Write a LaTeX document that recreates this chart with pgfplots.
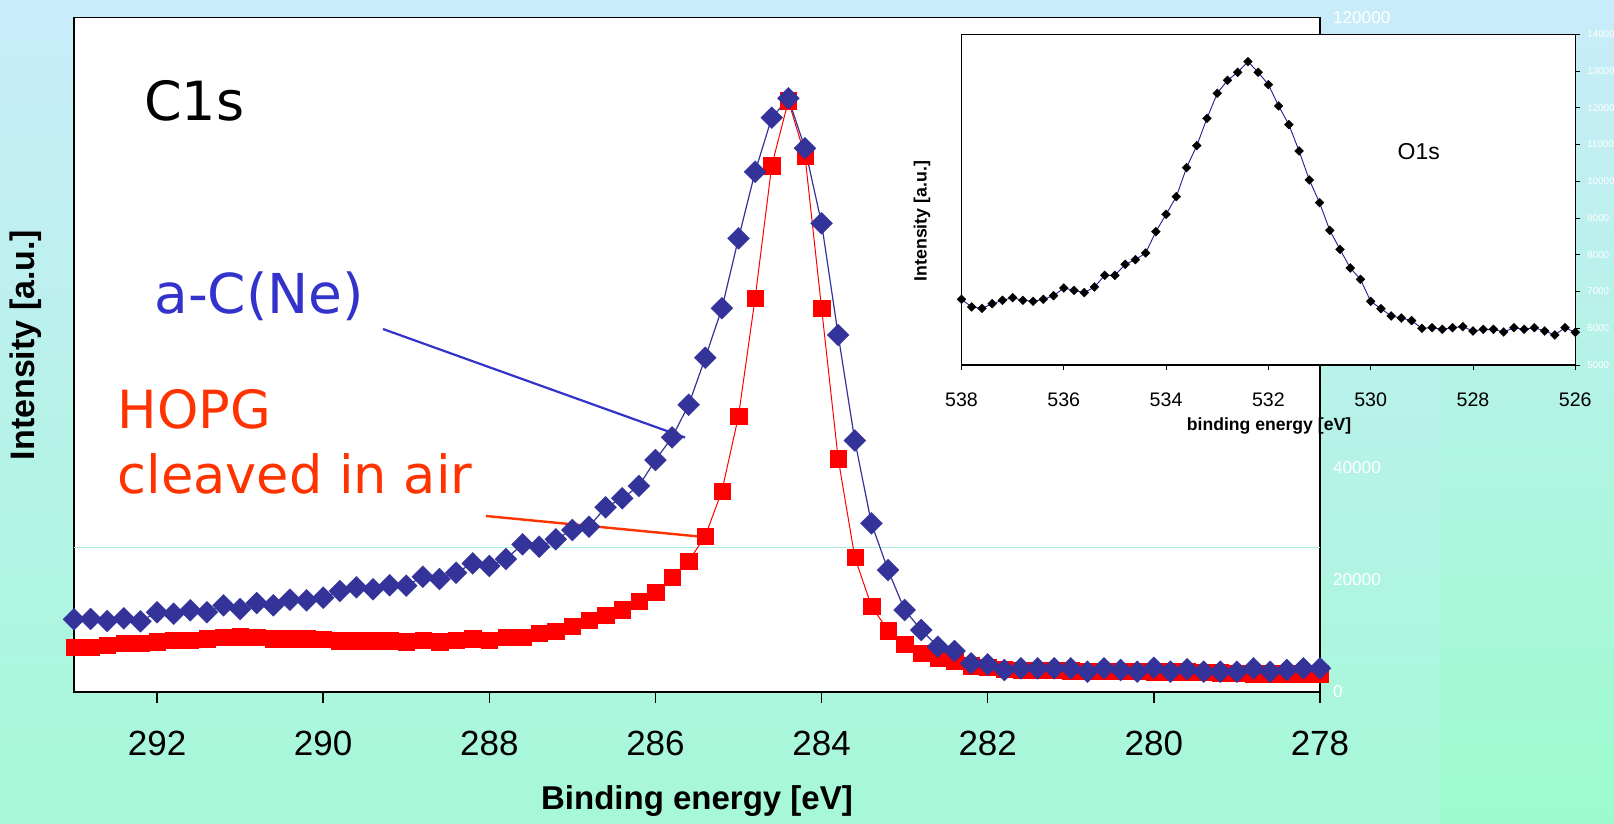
\documentclass[border=0pt]{standalone}
\usepackage{pgfplots}
\pgfplotsset{compat=1.18}
\usepackage{pgfplotstable}
\usepackage{fontspec}
\setmainfont{Liberation Sans}
\newfontfamily\verdana{DejaVu Sans}
\definecolor{bgtop}{RGB}{201,236,250}
\definecolor{bgbot}{RGB}{166,248,216}
\definecolor{bgbotr}{RGB}{156,251,206}
\definecolor{dblue}{RGB}{51,51,153}
\definecolor{ablue}{RGB}{51,51,204}
\definecolor{ared}{RGB}{255,51,0}
\definecolor{cyanl}{RGB}{170,236,222}
\definecolor{inblue}{RGB}{30,30,150}

\pgfplotstableread{
x blue red
293.0 12930 7950
292.8 12990 7950
292.6 12630 8300
292.4 13110 8650
292.2 12580 8650
292.0 14180 8950
291.8 13930 9250
291.6 14540 9250
291.4 14180 9500
291.2 15420 9750
291.0 14770 9840
290.8 15830 9750
290.6 15420 9500
290.4 16420 9500
290.2 16310 9500
290.0 16780 9450
289.8 17970 9150
289.6 18630 9150
289.4 18270 9150
289.2 18980 9150
289.0 18910 8950
288.8 20510 9250
288.6 20100 8950
288.4 21220 9200
288.2 22890 9500
288.0 22420 9250
287.8 23660 9800
287.6 26280 9800
287.4 25850 10500
287.2 27170 10850
287.0 28820 11770
286.8 29410 12750
286.6 32860 13670
286.4 34460 14650
286.2 36650 16200
286.0 41270 17800
285.8 45300 20400
285.6 51100 23300
285.4 59470 27750
285.2 68260 35760
285.0 80710 49100
284.8 92560 70090
284.6 102170 93630
284.4 105620 105190
284.2 96730 95410
284.0 83380 68260
283.8 63510 41500
283.6 44740 23950
283.4 30010 15280
283.2 21700 10950
283.0 14590 8500
282.8 11030 6900
282.6 8060 6100
282.4 7290 5510
282.2 5100 4680
282.0 4900 4390
281.8 3910 4040
281.6 4210 3910
281.4 4210 3900
281.2 4210 3850
281.0 4210 3800
280.8 3610 3750
280.6 4210 3750
280.4 3910 3700
280.2 3610 3700
280.0 4320 3650
279.8 3610 3600
279.6 4040 3600
279.4 3610 3550
279.2 3610 3450
279.0 3610 3350
278.8 4210 3300
278.6 3610 3300
278.4 3910 3300
278.2 4210 3300
278.0 4210 3250
}\maindata

\pgfplotstableread{
x y
538.0 6787
537.8 6579
537.6 6542
537.4 6669
537.2 6760
537.0 6833
536.8 6760
536.6 6733
536.4 6787
536.2 6887
536.0 7096
535.8 7032
535.6 6969
535.4 7123
535.2 7441
535.0 7441
534.8 7740
534.6 7867
534.4 8049
534.2 8629
534.0 9101
533.8 9582
533.6 10371
533.4 10970
533.2 11714
533.0 12394
532.8 12748
532.6 12966
532.4 13256
532.2 12966
532.0 12630
531.8 12050
531.6 11542
531.4 10825
531.2 10036
531.0 9419
530.8 8665
530.6 8148
530.4 7640
530.2 7332
530.0 6733
529.8 6533
529.6 6334
529.4 6279
529.2 6207
529.0 5998
528.8 6016
528.6 5971
528.4 6016
528.2 6043
528.0 5925
527.8 5971
527.6 5971
527.4 5898
527.2 6016
527.0 5971
526.8 6016
526.6 5925
526.4 5817
526.2 6016
526.0 5889
}\insetdata

\begin{document}
\begin{tikzpicture}
\useasboundingbox (0,0) rectangle (807pt,412pt);
\shade[top color=bgtop, bottom color=bgbot] (0,0) rectangle (720pt,412pt);
\shade[top color=bgtop, bottom color=bgbotr] (720pt,0) rectangle (807pt,412pt);

\begin{axis}[
  at={(37pt,66pt)}, anchor=south west,
  scale only axis, width=623pt, height=337.25pt,
  xmin=278, xmax=293, x dir=reverse,
  ymin=0, ymax=120000,
  clip=false,
  axis background/.style={fill=white},
  axis line style={black, line width=0.8pt},
  xtick={278,280,...,292},
  xtick pos=bottom, tick align=outside,
  major tick length=5.5pt,
  xtick style={black, line width=0.7pt},
  ytick={0,20000,...,120000},
  ytick pos=right, yticklabel pos=right,
  ytick style={draw=none},
  scaled y ticks=false,
  /pgf/number format/fixed,
  /pgf/number format/1000 sep={},
  /pgf/number format/assume math mode=true,
  xticklabel style={font=\fontsize{17.5}{20}\selectfont, anchor=center, yshift=-20pt},
  yticklabel style={font=\fontsize{8.6}{10}\selectfont, color=white, anchor=west, xshift=-2.5pt},
  xlabel={Binding energy [eV]},
  xlabel style={font=\bfseries\fontsize{16.5}{19}\selectfont, at={(axis description cs:0.5,-0.1616)}, anchor=center},
  ylabel={Intensity [a.u.]},
  ylabel style={font=\bfseries\fontsize{17}{19}\selectfont, at={(axis description cs:-0.0388,0.5145)}, anchor=center},
]
\draw[cyanl, line width=0.6pt] (axis cs:293,25700) -- (axis cs:278,25700);
\addplot[red, line width=0.5pt, mark=square*, mark size=4.1pt,
  mark options={solid, fill=red, draw=red, line width=0.1pt}]
  table[x=x, y=red]{\maindata};
\addplot[dblue, line width=0.6pt, mark=square*, mark size=3.9pt,
  mark options={solid, fill=dblue, draw=dblue, rotate=45, line width=0.1pt}]
  table[x=x, y=blue]{\maindata};
\draw[ablue, line width=1.1pt] (axis cs:289.280,64578) -- (axis cs:285.644,45276);
\draw[ared, line width=1.2pt] (axis cs:288.040,31310) -- (axis cs:285.376,27521);
\node[anchor=base west, inner sep=0pt, font=\verdana\fontsize{27}{30}\selectfont] at (axis cs:292.16,101634) {C1s};
\node[anchor=base west, inner sep=0pt, text=ablue, font=\verdana\fontsize{27.5}{30}\selectfont] at (axis cs:292.037,67370) {a-C(Ne)};
\node[anchor=base west, inner sep=0pt, text=ared, font=\verdana\fontsize{26.3}{30}\selectfont] at (axis cs:292.48,46912) {HOPG};
\node[anchor=base west, inner sep=0pt, text=ared, font=\verdana\fontsize{26.3}{30}\selectfont] at (axis cs:292.48,35349) {cleaved in air};
\end{axis}

\begin{axis}[
  at={(480.75pt,229.5pt)}, anchor=south west,
  scale only axis, width=306.9pt, height=165.35pt,
  xmin=526, xmax=538, x dir=reverse,
  ymin=5000, ymax=14000,
  axis background/.style={fill=white},
  axis line style={black, line width=0.6pt},
  xtick={526,528,...,538},
  xtick pos=bottom, tick align=outside,
  major tick length=2.5pt,
  xtick style={black, line width=0.5pt},
  ytick={5000,6000,...,14000},
  ytick pos=right, yticklabel pos=right,
  ytick style={black, line width=0.4pt},
  scaled y ticks=false,
  /pgf/number format/fixed,
  /pgf/number format/1000 sep={},
  /pgf/number format/assume math mode=true,
  xticklabel style={font=\fontsize{9.8}{11}\selectfont, anchor=center, yshift=-15pt},
  yticklabel style={font=\fontsize{4.9}{6}\selectfont, color=white, anchor=west, xshift=0pt},
  xlabel={binding energy [eV]},
  xlabel style={font=\bfseries\fontsize{8.8}{10}\selectfont, at={(axis description cs:0.501,-0.1836)}, anchor=center},
  ylabel={Intensity [a.u.]},
  ylabel style={font=\bfseries\fontsize{8.9}{10}\selectfont, at={(axis description cs:-0.0644,0.435)}, anchor=center},
]
\addplot[inblue, line width=0.45pt, mark=square*, mark size=1.6pt,
  mark options={solid, fill=black, draw=black, rotate=45, line width=0.1pt}]
  table[x=x, y=y]{\insetdata};
\node[font=\fontsize{11.5}{13}\selectfont] at (axis cs:529.06,10805) {O1s};
\end{axis}
\end{tikzpicture}
\end{document}
